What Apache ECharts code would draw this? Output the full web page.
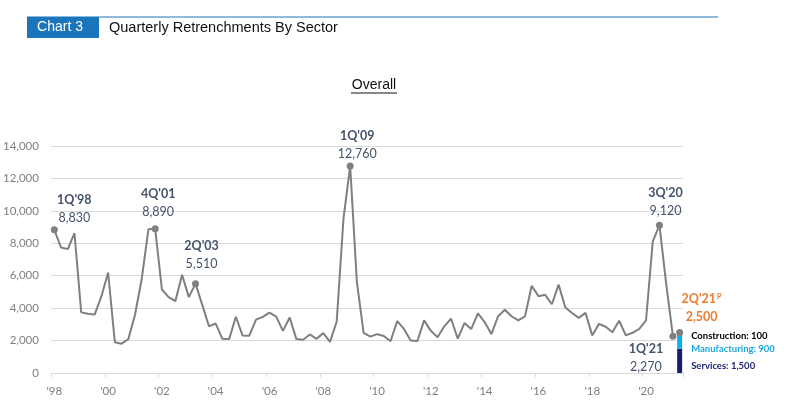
<!DOCTYPE html>
<html><head><meta charset="utf-8">
<script src="https://cdn.jsdelivr.net/npm/echarts@6/dist/echarts.min.js"></script>
<style>html,body{margin:0;padding:0;background:#fff}#c{width:793px;height:419px}</style>
</head><body><div id="c"></div>
<script>
// ---- data ----
const years = ['98','99','00','01','02','03','04','05','06','07','08','09','10','11','12','13','14','15','16','17','18','19','20','21'];
const quarterNames = ['1Q','2Q','3Q','4Q'];
const categories = [];
years.forEach(y => quarterNames.forEach(q => categories.push(q + "'" + y)));
categories.length = 94; // 1Q'98 .. 2Q'21

const overall = [
  8830, 7740, 7640, 8620,   // 1998
  3740, 3650, 3600, 4720,   // 1999
  6200, 1900, 1810, 2080,   // 2000
  3590, 5800, 8870, 8890,   // 2001
  5150, 4680, 4430, 6060,   // 2002
  4680, 5510, 4200, 2880,   // 2003
  3050, 2110, 2090, 3470,   // 2004
  2310, 2300, 3290, 3460,   // 2005
  3720, 3480, 2600, 3420,   // 2006
  2090, 2050, 2380, 2110,   // 2007
  2460, 1920, 3180, 9500,   // 2008
  12760, 5600, 2470, 2240,  // 2009
  2400, 2280, 1960, 3200,   // 2010
  2720, 2010, 1975, 3245,   // 2011
  2600, 2200, 2880, 3345,   // 2012
  2120, 3080, 2710, 3680,   // 2013
  3140, 2400, 3500, 3900,   // 2014
  3500, 3250, 3490, 5380,   // 2015
  4740, 4820, 4240, 5450,   // 2016
  4040, 3700, 3400, 3710,   // 2017
  2320, 3030, 2850, 2510,   // 2018
  3220, 2320, 2480, 2720,   // 2019
  3240, 8100, 9120, 5500,   // 2020
  2270                      // 2021
];
const highlightQuarters = ["1Q'98", "4Q'01", "2Q'03", "1Q'09", "3Q'20", "1Q'21"];
const prelimQuarter = "2Q'21";
const prelimTotal = 2500;
const sectorNames = ['Services', 'Manufacturing', 'Construction'];
const sectorValues = [1500, 900, 100];

// ---- styles ----
const FONT = 'Lato';
const labelStyles = {
  "1Q'98": {position: 'top', offset: [20, 6]},
  "4Q'01": {position: 'top', offset: [3, 1]},
  "2Q'03": {position: 'top', offset: [6, -2]},
  "1Q'09": {position: 'top', offset: [7, 5]},
  "3Q'20": {position: 'top', offset: [6, 3]},
  "1Q'21": {position: 'bottom', offset: [-27, -5]}
};
const sectorColors = {Services: '#1B1E6E', Manufacturing: '#12AEE8', Construction: '#000000'};
const sectorLabelColors = {Services: '#1F2470', Manufacturing: '#1CA8DD', Construction: '#000000'};
const sectorLabelOffset = {Services: [4, 5], Manufacturing: [4, 8], Construction: [4, 3]};

const fmt = v => v.toLocaleString('en-US');

const lineData = overall.map((v, i) => {
  const name = categories[i];
  if (highlightQuarters.indexOf(name) < 0) return v;
  const ls = labelStyles[name];
  return {
    value: v, symbol: 'circle', symbolSize: 7,
    itemStyle: {color: '#808080'},
    label: {
      show: true, position: ls.position, offset: ls.offset,
      formatter: p => '{b|' + p.name + '}\n{v|' + fmt(p.value) + '}',
      rich: {
        b: {fontFamily: FONT, fontWeight: 'bold', fontSize: 12.5, color: '#44546A', lineHeight: 18, align: 'center'},
        v: {fontFamily: FONT, fontSize: 12.5, color: '#44546A', lineHeight: 18, align: 'center'}
      }
    }
  };
});

const prelimIdx = categories.indexOf(prelimQuarter);
const prelimData = categories.map((c, i) => i === prelimIdx ? prelimTotal : '-');

const barSeries = sectorNames.map((s, k) => ({
  type: 'bar', name: s, stack: 'sector', barWidth: 5, z: 1,
  itemStyle: {color: sectorColors[s]},
  data: categories.map((c, i) => i === prelimIdx ? sectorValues[k] : '-'),
  label: {
    show: true, position: 'right', offset: sectorLabelOffset[s],
    formatter: p => p.value === '-' ? '' : s + ': ' + fmt(p.value),
    fontFamily: FONT, fontWeight: 'bold', fontSize: 9.5, color: sectorLabelColors[s]
  },
  silent: true
}));

const chart = echarts.init(document.getElementById('c'), null, {renderer: 'canvas'});
chart.setOption({
  animation: false,
  backgroundColor: '#fff',
  grid: {left: 50, right: 110, top: 146, bottom: 46},
  graphic: [
    {type: 'line', shape: {x1: 27, y1: 17, x2: 718, y2: 17}, style: {stroke: '#1B75BB', lineWidth: 1}},
    {type: 'rect', shape: {x: 27, y: 17, width: 72, height: 21}, style: {fill: '#1B75BB'}},
    {type: 'text', x: 60, y: 27.5, style: {text: 'Chart 3', fill: '#fff', font: '14px "Liberation Sans"', textAlign: 'center', textVerticalAlign: 'middle'}},
    {type: 'text', x: 109, y: 27.5, style: {text: 'Quarterly Retrenchments By Sector', fill: '#111', font: '14.5px "Liberation Sans"', textAlign: 'left', textVerticalAlign: 'middle'}},
    {type: 'text', x: 374, y: 85, style: {text: 'Overall', fill: '#111', font: '14px "Liberation Sans"', textAlign: 'center', textVerticalAlign: 'middle'}},
    {type: 'line', shape: {x1: 351, y1: 93, x2: 397, y2: 93}, style: {stroke: '#111', lineWidth: 1}}
  ],
  xAxis: {
    type: 'category', data: categories, boundaryGap: true,
    axisLine: {lineStyle: {color: '#D9D9D9'}},
    axisTick: {show: true, interval: 7, length: 4, lineStyle: {color: '#D9D9D9'}},
    axisLabel: {interval: 7, formatter: v => v.slice(2), color: '#7F7F7F', fontFamily: FONT, fontSize: 11.5, margin: 12},
    splitLine: {show: false}
  },
  yAxis: {
    type: 'value', min: 0, max: 14000, interval: 2000,
    axisLine: {show: false}, axisTick: {show: false},
    axisLabel: {formatter: v => fmt(v), color: '#7F7F7F', fontFamily: FONT, fontSize: 11.5, margin: 12},
    splitLine: {lineStyle: {color: '#D9D9D9'}}
  },
  series: [
    ...barSeries,
    {
      type: 'line', name: 'Overall', data: lineData, z: 3,
      symbol: 'none', showAllSymbol: true,
      lineStyle: {color: '#7F7F7F', width: 2},
      itemStyle: {color: '#808080'}
    },
    {
      type: 'line', name: 'Prelim', data: prelimData, z: 4,
      symbol: 'circle', symbolSize: 7, showAllSymbol: true,
      lineStyle: {width: 0}, itemStyle: {color: '#808080'},
      label: {
        show: true, position: 'top', offset: [22, 2],
        formatter: p => '{b|' + p.name + '}{s|P}\n{b|' + fmt(p.value) + '}',
        rich: {
          b: {fontFamily: FONT, fontWeight: 'bold', fontSize: 12.5, color: '#ED7D31', lineHeight: 18},
          s: {fontFamily: FONT, fontWeight: 'bold', fontSize: 7.5, color: '#ED7D31', lineHeight: 18, padding: [0, 0, 5, 1]}
        }
      }
    }
  ]
});
</script></body></html>
